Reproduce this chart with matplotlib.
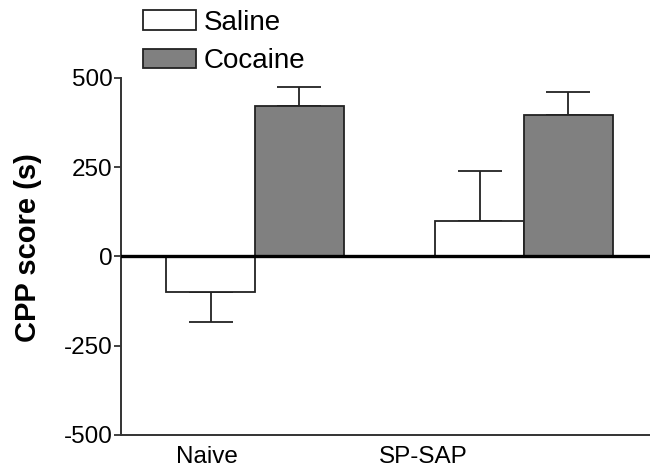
import matplotlib
matplotlib.use("Agg")
import matplotlib.pyplot as plt
import numpy as np

plt.rcParams['font.family'] = ['Liberation Sans', 'DejaVu Sans']
plt.rcParams['axes.unicode_minus'] = False

groups = ["Naive", "SP-SAP"]
saline = [-100, 98]
saline_err = [84, 142]
cocaine = [420, 397]
cocaine_err = [53, 62]

x = np.arange(len(groups))
w = 0.33

fig = plt.figure(figsize=(6.5, 4.69), dpi=100)
ax = fig.add_axes([0.186, 0.0725, 0.814, 0.7615])

def one_sided(vals, errs):
    lo = [e if v < 0 else 0 for v, e in zip(vals, errs)]
    hi = [e if v >= 0 else 0 for v, e in zip(vals, errs)]
    return [lo, hi]

b1 = ax.bar(x - w / 2, saline, w, color="white", edgecolor="#222222", linewidth=1.3, label="Saline", zorder=2)
b2 = ax.bar(x + w / 2, cocaine, w, color="#808080", edgecolor="#222222", linewidth=1.3, label="Cocaine", zorder=2)
ax.errorbar(x - w / 2, saline, yerr=one_sided(saline, saline_err), fmt="none", ecolor="#222222",
            elinewidth=1.3, capsize=16, capthick=1.3, zorder=1)
ax.errorbar(x + w / 2, cocaine, yerr=one_sided(cocaine, cocaine_err), fmt="none", ecolor="#222222",
            elinewidth=1.3, capsize=16, capthick=1.3, zorder=1)

ax.axhline(0, color="black", linewidth=2.4, zorder=3)

ax.set_ylim(-500, 500)
ax.set_xlim(-0.498, 1.468)
ax.set_yticks([-500, -250, 0, 250, 500])
ax.set_xticks([-0.178, 0.625])
ax.set_xticklabels(groups)
ax.tick_params(axis="x", length=0, labelsize=17.5, pad=8)
ax.tick_params(axis="y", length=5, width=1.3, color="#333333", labelsize=17.5, pad=1)
ax.set_ylabel("CPP score (s)", fontsize=21, fontweight="bold")
ax.yaxis.set_label_coords(-0.15, 0.525)

for s in ["top", "right"]:
    ax.spines[s].set_visible(False)
for s in ["left", "bottom"]:
    ax.spines[s].set_color("#333333")
    ax.spines[s].set_linewidth(1.4)

ax.legend(handles=[b1, b2], loc="upper left", bbox_to_anchor=(0.205, 1.0), bbox_transform=fig.transFigure,
          frameon=False, fontsize=20, handlelength=1.9, handleheight=0.7, handletextpad=0.3,
          labelspacing=0.45, borderaxespad=0.15, borderpad=0.2)

fig.savefig("out.png", dpi=100)
